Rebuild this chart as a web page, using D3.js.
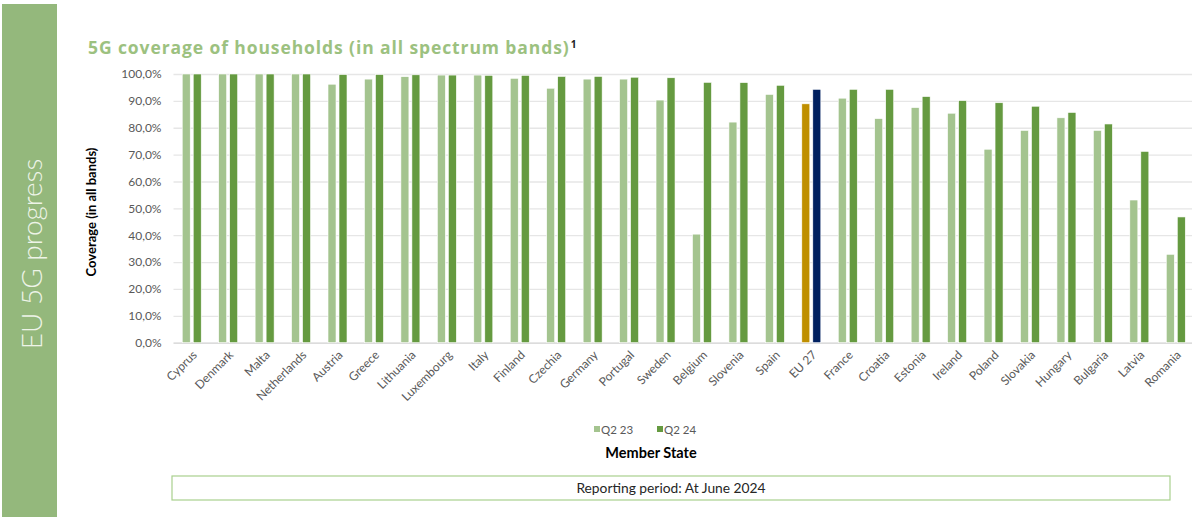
<!DOCTYPE html>
<html>
<head>
<meta charset="utf-8">
<script src="https://cdn.jsdelivr.net/npm/d3@7"></script>
<style>
  html, body { margin: 0; padding: 0; background: #ffffff; }
  svg { display: block; }
</style>
</head>
<body>
<svg id="chart" width="1192" height="517"></svg>
<script>
// Member states ordered by Q2 24 coverage, with the EU 27 average in between
const categories = ["Cyprus", "Denmark", "Malta", "Netherlands", "Austria", "Greece", "Lithuania",
  "Luxembourg", "Italy", "Finland", "Czechia", "Germany", "Portugal", "Sweden", "Belgium",
  "Slovenia", "Spain", "EU 27", "France", "Croatia", "Estonia", "Ireland", "Poland",
  "Slovakia", "Hungary", "Bulgaria", "Latvia", "Romania"];

const seriesNames = ["Q2 23", "Q2 24"];

// 5G household coverage in all spectrum bands (%)
const q2_23 = [100.0, 100.0, 100.0, 100.0, 96.2, 98.1, 99.0, 99.6, 99.6, 98.4, 94.7, 98.1, 98.1,
  90.3, 40.4, 82.1, 92.4, 88.9, 91.0, 83.4, 87.5, 85.4, 72.0, 79.0, 83.7, 79.0, 53.1, 32.9];
const q2_24 = [100.0, 100.0, 100.0, 100.0, 99.8, 99.8, 99.7, 99.6, 99.5, 99.5, 99.1, 99.1, 98.8,
  98.6, 96.9, 96.8, 95.8, 94.3, 94.3, 94.3, 91.6, 90.1, 89.3, 88.0, 85.7, 81.4, 71.2, 46.8];

const yTicks = [0, 10, 20, 30, 40, 50, 60, 70, 80, 90, 100];

const seriesColors = { "Q2 23": "#a4c48f", "Q2 24": "#659a40" };
const averageColors = { "Q2 23": "#bf8f00", "Q2 24": "#002060" };

const svg = d3.select("#chart");
const font = "Lato, 'Open Sans', sans-serif";
const titleFont = "'Open Sans', Lato, sans-serif";

// Side banner
svg.append("rect")
  .attr("x", 2).attr("y", 4).attr("width", 55).attr("height", 513)
  .attr("fill", "#94b87c");
svg.append("text")
  .attr("transform", "translate(42,254) rotate(-90)")
  .attr("text-anchor", "middle")
  .attr("font-family", font)
  .attr("font-weight", 300)
  .attr("font-size", 28)
  .attr("fill", "#eef4e8")
  .text("EU 5G progress");

// Title
const title = svg.append("text")
  .attr("x", 88).attr("y", 54)
  .attr("font-family", titleFont)
  .attr("font-weight", 700)
  .attr("font-size", 17.5)
  .attr("letter-spacing", 0.9)
  .attr("fill", "#9cc180");
title.append("tspan").text("5G coverage of households (in all spectrum bands)");
title.append("tspan")
  .attr("dy", -6)
  .attr("font-size", 10)
  .attr("letter-spacing", 0)
  .attr("fill", "#222")
  .attr("dx", 1)
  .text("1");

// Scales
const plot = { left: 173.5, right: 1194, top: 74, bottom: 342.7 };

const x = d3.scaleBand()
  .domain(categories)
  .range([plot.left, plot.right])
  .padding(0);

const xs = d3.scaleBand()
  .domain(seriesNames)
  .range([-9.5, 9.5])
  .paddingInner(3 / 11);

const y = d3.scaleLinear()
  .domain([0, 100])
  .range([plot.bottom, plot.top]);

const locale = d3.formatLocale({ decimal: ",", thousands: ".", grouping: [3], currency: ["", "€"] });
const pct = v => locale.format(".1f")(v) + "%";

// Gridlines and y labels
const yAxis = svg.append("g")
  .attr("transform", `translate(${plot.left},0)`)
  .call(d3.axisLeft(y).tickValues(yTicks).tickFormat(pct)
    .tickSize(-(plot.right - plot.left)).tickPadding(12));
yAxis.select(".domain").remove();
yAxis.selectAll(".tick line")
  .attr("stroke", d => d === 0 ? "#d0d0d0" : "#e6e6e6")
  .attr("stroke-width", 1.3);
yAxis.selectAll(".tick text")
  .attr("font-family", font)
  .attr("font-size", 12)
  .attr("fill", "#595959");

// Bars
const rows = categories.map((c, i) => ({ category: c, values: [
  { series: "Q2 23", value: q2_23[i] },
  { series: "Q2 24", value: q2_24[i] }
]}));

const groups = svg.append("g").selectAll("g")
  .data(rows)
  .join("g")
  .attr("transform", d => `translate(${x(d.category) + x.bandwidth() / 2},0)`);

groups.selectAll("rect")
  .data(d => d.values.map(v => ({ ...v, category: d.category })))
  .join("rect")
  .attr("x", d => xs(d.series))
  .attr("width", xs.bandwidth())
  .attr("y", d => y(d.value))
  .attr("height", d => y(0) - y(d.value))
  .attr("fill", d => d.category === "EU 27" ? averageColors[d.series] : seriesColors[d.series])
  .attr("stroke", "#ffffff")
  .attr("stroke-width", 0.6);

// Category labels
const xAxis = svg.append("g")
  .attr("transform", `translate(0,${plot.bottom})`)
  .call(d3.axisBottom(x).tickSize(0).tickPadding(0));
xAxis.select(".domain").remove();
xAxis.selectAll(".tick text")
  .attr("font-family", font)
  .attr("font-size", 12)
  .attr("fill", "#595959")
  .attr("text-anchor", "end")
  .attr("dy", 0)
  .attr("transform", "translate(6,13) rotate(-45)");

// Y axis title
svg.append("text")
  .attr("transform", "translate(96,212) rotate(-90)")
  .attr("text-anchor", "middle")
  .attr("font-family", font)
  .attr("font-weight", 700)
  .attr("font-size", 13)
  .attr("fill", "#000")
  .text("Coverage (in all bands)");

// Legend
const legend = svg.append("g")
  .attr("transform", "translate(594,434)");
const legendItem = legend.selectAll("g")
  .data(seriesNames)
  .join("g")
  .attr("transform", (d, i) => `translate(${i * 63},0)`);
legendItem.append("rect")
  .attr("x", 0).attr("y", -8).attr("width", 6).attr("height", 6)
  .attr("fill", d => seriesColors[d]);
legendItem.append("text")
  .attr("x", 7).attr("y", 0)
  .attr("font-family", font)
  .attr("font-size", 11.5)
  .attr("fill", "#595959")
  .text(d => d);

// X axis title
svg.append("text")
  .attr("x", 651).attr("y", 458)
  .attr("text-anchor", "middle")
  .attr("font-family", font)
  .attr("font-weight", 700)
  .attr("font-size", 14.5)
  .attr("fill", "#000")
  .text("Member State");

// Reporting period box
svg.append("rect")
  .attr("x", 172).attr("y", 476).attr("width", 998).attr("height", 24)
  .attr("fill", "none")
  .attr("stroke", "#a9d08e")
  .attr("stroke-width", 1.2);
svg.append("text")
  .attr("x", 671).attr("y", 493)
  .attr("text-anchor", "middle")
  .attr("font-family", font)
  .attr("font-size", 13.8)
  .attr("fill", "#262626")
  .text("Reporting period: At June 2024");
</script>
</body>
</html>
